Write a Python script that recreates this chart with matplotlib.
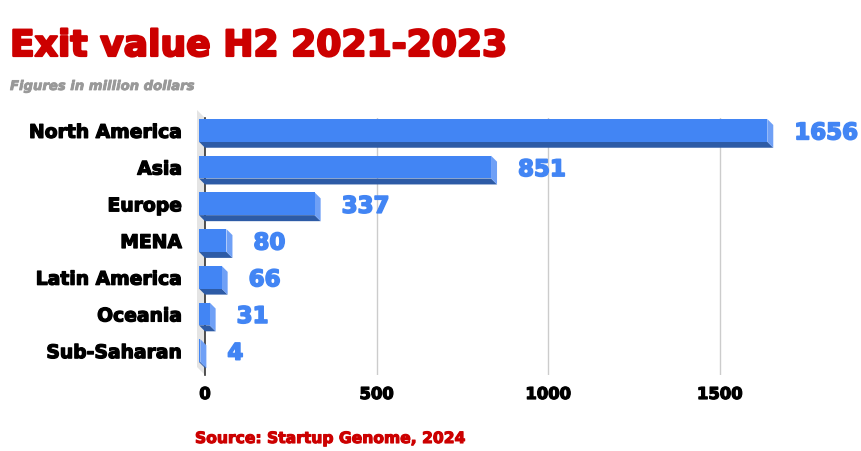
import numpy as np
import matplotlib.pyplot as plt
import matplotlib.patheffects as pe
from matplotlib.patches import Polygon

# Datos
regiones = ['North America', 'Asia', 'Europe', 'MENA', 'Latin America', 'Oceania', 'Sub-Saharan']
valores = [1656, 851, 337, 80, 66, 31, 4]
ticks_x = [0, 500, 1000, 1500]

# Colores
azul = '#4285F4'
azul_oscuro = '#2D5BA6'
azul_claro = '#6FA0F6'
rojo = '#CC0000'

plt.rcParams['font.family'] = 'DejaVu Sans'


def grueso(color, lw):
    # trazo extra para imitar una fuente tipo "black"
    return [pe.withStroke(linewidth=lw, foreground=color)]


W, H = 862, 452
fig = plt.figure(figsize=(W / 100, H / 100), dpi=100)
fig.patch.set_facecolor('white')

# Plano trasero del grafico (en pixeles)
left_px, right_px, top_px, bot_px = 205, 857, 119, 376
ax = fig.add_axes([left_px / W, 1 - bot_px / H, (right_px - left_px) / W, (bot_px - top_px) / H])
ax.set_xlim(0, 1900)
ax.set_ylim(len(regiones) - 0.5, -0.5)
ax.axis('off')

# Conversion pixel -> datos
px_x = (right_px - left_px) / 1900
px_y = (bot_px - top_px) / len(regiones)
prof = 6  # profundidad 3D de las barras en px
dx = prof / px_x
dy = prof / px_y

# Pared izquierda gris
pw = 8
pared = Polygon([(0, -0.5), (0, len(regiones) - 0.5),
                 (-pw / px_x, len(regiones) - 0.5 - pw / px_y), (-pw / px_x, -0.5 - pw / px_y)],
                closed=True, facecolor='#E4E4E4', edgecolor='none', clip_on=False, zorder=0)
ax.add_patch(pared)

# Lineas de cuadricula
for t in ticks_x[1:]:
    ax.plot([t, t], [-0.5, len(regiones) - 0.5], color='#CCCCCC', lw=1, zorder=1)
ax.plot([0, 0], [-0.5, len(regiones) - 0.5], color='#333333', lw=1.2, zorder=1, clip_on=False)

# Barras 3D
alto = 0.62
for i, v in enumerate(valores):
    x0, x1 = -dx, v - dx
    y_top, y_bot = i - alto / 2 - dy, i + alto / 2 - dy
    # cara inferior
    ax.add_patch(Polygon([(x0, y_bot), (x1, y_bot), (x1 + dx, y_bot + dy), (x0 + dx, y_bot + dy)],
                         closed=True, facecolor=azul_oscuro, edgecolor='none', clip_on=False, zorder=3))
    # cara lateral
    ax.add_patch(Polygon([(x1, y_top), (x1 + dx, y_top + dy), (x1 + dx, y_bot + dy), (x1, y_bot)],
                         closed=True, facecolor=azul_claro, edgecolor='none', clip_on=False, zorder=3))
    # cara frontal
    ax.barh(i - dy, v, height=alto, left=-dx, color=azul, zorder=4, clip_on=False)
    # etiqueta de valor
    ax.text(v + 21 / px_x, i - dy, str(v), color=azul, fontsize=16.5, fontweight='heavy',
            va='center_baseline', ha='left', zorder=5, path_effects=grueso(azul, 1.2))

# Etiquetas de categorias
for i, r in enumerate(regiones):
    ax.text(-23 / px_x, i - dy, r, color='black', fontsize=13.5, fontweight='heavy',
            va='center_baseline', ha='right', path_effects=grueso('black', 0.9))

# Etiquetas del eje x
for t in ticks_x:
    ax.text(t, len(regiones) - 0.5 + 18 / px_y, str(t), color='black', fontsize=11.8,
            fontweight='heavy', va='center_baseline', ha='center', path_effects=grueso('black', 0.9))

# Titulos
fig.text(10 / W, 1 - 57 / H, 'Exit value H2 2021-2023', color=rojo, fontsize=26,
         fontweight='heavy', va='baseline', ha='left', path_effects=grueso(rojo, 1.6))
fig.text(10 / W, 1 - 91 / H, 'Figures in million dollars', color='#999999', fontsize=9.5,
         fontweight='heavy', style='italic', va='baseline', ha='left',
         path_effects=grueso('#999999', 0.6))
fig.text(195 / W, 1 - 444 / H, 'Source: Startup Genome, 2024', color=rojo, fontsize=11.2,
         fontweight='heavy', va='baseline', ha='left', path_effects=grueso(rojo, 0.8))

fig.savefig('out.png', dpi=100)
